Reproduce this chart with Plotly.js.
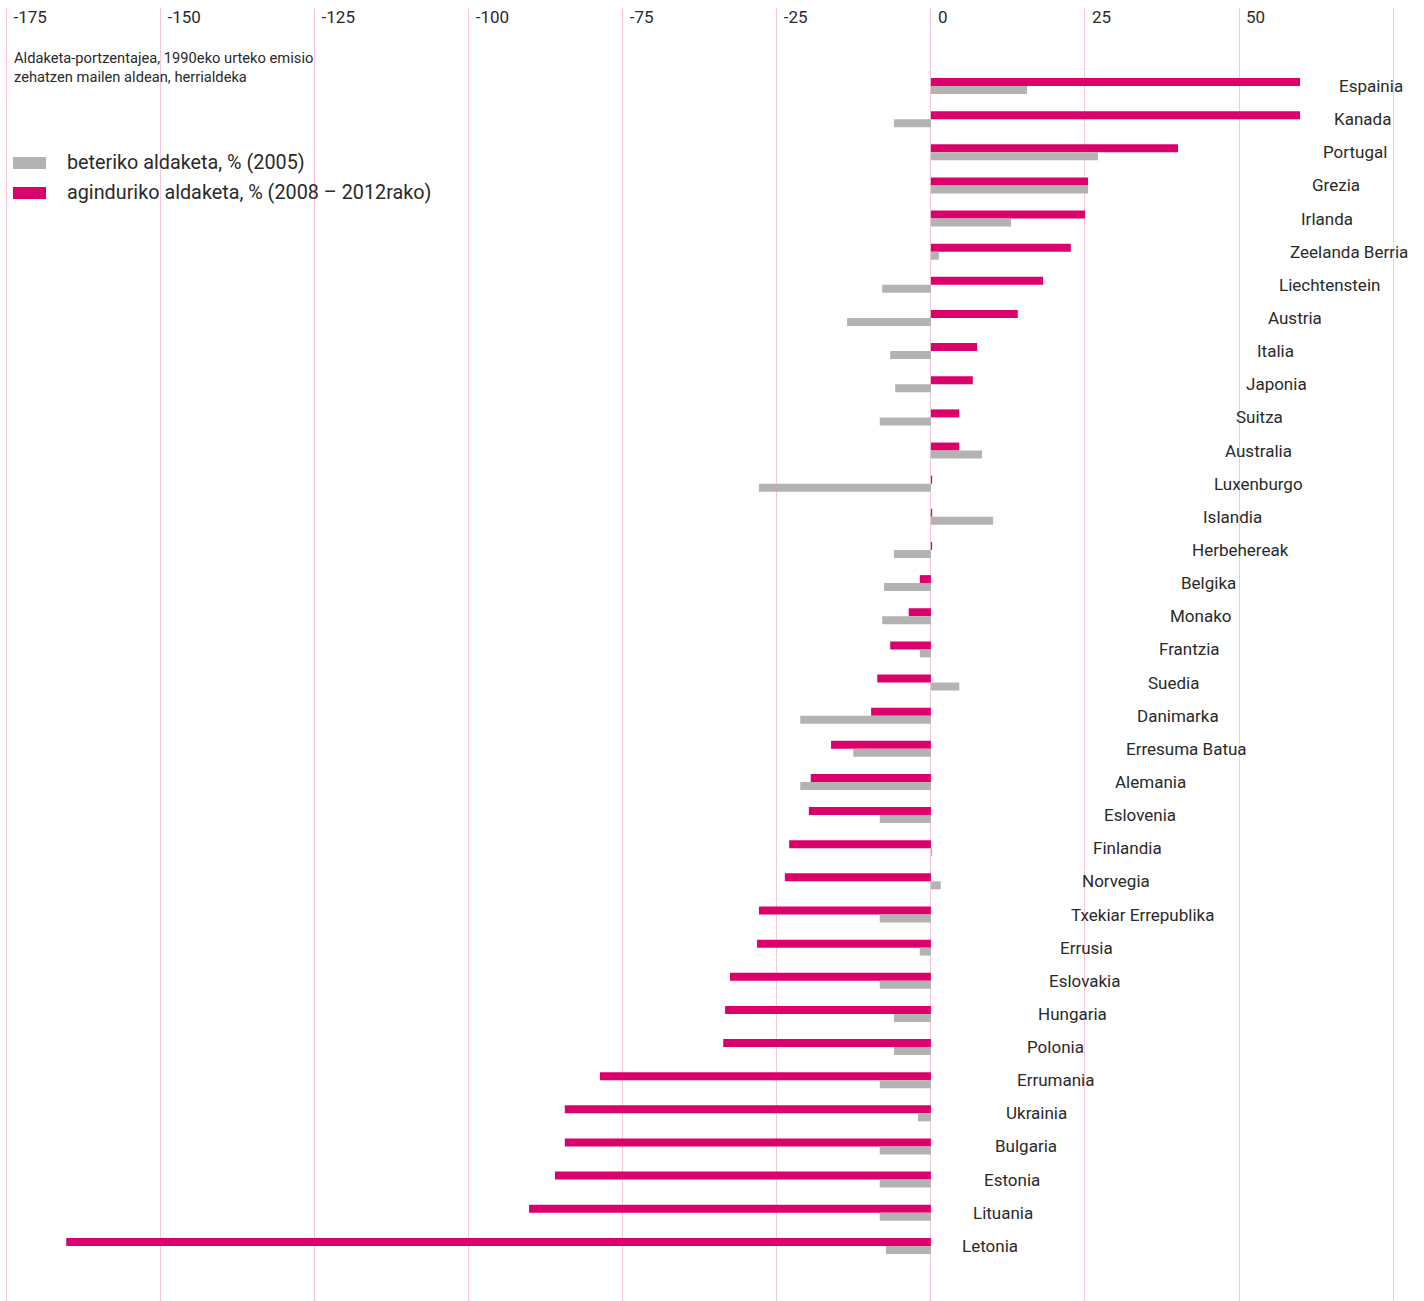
<!DOCTYPE html>
<html>
<head>
<meta charset="utf-8">
<script src="https://cdn.plot.ly/plotly-3.0.1.min.js"></script>
<style>
  html, body { margin: 0; padding: 0; background: #ffffff; }
  #chart { width: 1424px; height: 1301px; }
</style>
</head>
<body>
<div id="chart"></div>
<script>
// ---- data ----
const countries = ['Espainia','Kanada','Portugal','Grezia','Irlanda','Zeelanda Berria','Liechtenstein','Austria','Italia','Japonia','Suitza','Australia','Luxenburgo','Islandia','Herbehereak','Belgika','Monako','Frantzia','Suedia','Danimarka','Erresuma Batua','Alemania','Eslovenia','Finlandia','Norvegia','Txekiar Errepublika','Errusia','Eslovakia','Hungaria','Polonia','Errumania','Ukrainia','Bulgaria','Estonia','Lituania','Letonia'];

// aginduriko aldaketa, % (2008 – 2012rako)
const agindurikoValues = [59.9, 59.9, 40.1, 25.5, 25.0, 22.7, 18.2, 14.1, 7.5, 6.8, 4.6, 4.6, 0.2, 0.2, 0.2, -1.8, -3.6, -6.6, -8.7, -9.7, -16.2, -19.5, -19.8, -23.0, -23.7, -27.9, -28.2, -32.6, -33.4, -33.7, -53.7, -59.4, -59.4, -61.0, -65.2, -140.3];

// beteriko aldaketa, % (2005)
const beterikoValues = [15.6, -6.0, 27.1, 25.5, 13.0, 1.3, -7.9, -13.6, -6.6, -5.8, -8.3, 8.3, -27.9, 10.1, -6.0, -7.6, -7.9, -1.8, 4.6, -21.2, -12.6, -21.2, -8.3, 0.2, 1.6, -8.3, -1.8, -8.3, -6.0, -6.0, -8.3, -2.1, -8.3, -8.3, -8.3, -7.3];

const tickValues = [-150, -125, -100, -75, -50, -25, 0, 25, 50, 75];
const tickLabels = ['-175', '-150', '-125', '-100', '-75', '-25', '0', '25', '50', ''];

const seriesNames = ['beteriko aldaketa, % (2005)', 'aginduriko aldaketa, % (2008 – 2012rako)'];
const subtitleText = 'Aldaketa-portzentajea, 1990eko urteko emisio<br>zehatzen mailen aldean, herrialdeka';

// ---- styling / geometry ----
const PINK = '#dc006c';
const GRAY = '#b3b3b3';
const GRID = '#f6c8d9';
const TEXT = '#2a2a2a';
const FONT = 'Roboto, "Open Sans", sans-serif';

const W = 1424, H = 1301;
const M = {l: 0, r: 25, t: 8, b: 0};
const plotW = W - M.l - M.r;
const plotH = H - M.t - M.b;
const zeroPx = 930.9, pxPerUnit = 6.163;
const xRange = [(M.l - zeroPx) / pxPerUnit, (W - M.r - zeroPx) / pxPerUnit];

const rowPitch = 33.14, firstRowPx = 86;
const yTop = -(firstRowPx - M.t) / rowPitch;
const yBottom = (H - M.b - firstRowPx) / rowPitch;
const barW = 8 / rowPitch;

const px2x = px => (px - M.l) / plotW;
const px2y = py => 1 - (py - M.t) / plotH;

const traces = [
  {
    type: 'bar', orientation: 'h', name: seriesNames[1],
    x: agindurikoValues, y: countries,
    width: barW, offset: -barW,
    marker: {color: PINK, line: {width: 0}},
    hoverinfo: 'x+y', showlegend: false
  },
  {
    type: 'bar', orientation: 'h', name: seriesNames[0],
    x: beterikoValues, y: countries,
    width: barW, offset: 0,
    marker: {color: GRAY, line: {width: 0}},
    hoverinfo: 'x+y', showlegend: false
  }
];

const annotations = countries.map((c, i) => ({
  xref: 'paper', yref: 'y',
  x: px2x(Math.min(1344 - 10.95 * i, 1337.5)), y: i,
  text: c, showarrow: false,
  xanchor: 'left', yanchor: 'middle', borderpad: 0,
  font: {family: FONT, size: 17, color: TEXT}
}));

annotations.push({
  xref: 'paper', yref: 'paper', x: px2x(13), y: px2y(48),
  text: subtitleText, showarrow: false, align: 'left',
  xanchor: 'left', yanchor: 'top', borderpad: 0,
  font: {family: FONT, size: 14.7, color: TEXT}
});
annotations.push({
  xref: 'paper', yref: 'paper', x: px2x(66), y: px2y(162.5),
  text: seriesNames[0], showarrow: false,
  xanchor: 'left', yanchor: 'middle', borderpad: 0,
  font: {family: FONT, size: 19.8, color: TEXT}
});
annotations.push({
  xref: 'paper', yref: 'paper', x: px2x(66), y: px2y(192.5),
  text: seriesNames[1], showarrow: false,
  xanchor: 'left', yanchor: 'middle', borderpad: 0,
  font: {family: FONT, size: 19.8, color: TEXT}
});

const shapes = [
  {type: 'rect', xref: 'paper', yref: 'paper', x0: px2x(13), x1: px2x(46), y0: px2y(157), y1: px2y(169), fillcolor: GRAY, line: {width: 0}},
  {type: 'rect', xref: 'paper', yref: 'paper', x0: px2x(13), x1: px2x(46), y0: px2y(187), y1: px2y(199), fillcolor: PINK, line: {width: 0}}
];

const layout = {
  width: W, height: H,
  margin: {l: M.l, r: M.r, t: M.t, b: M.b, pad: 0},
  paper_bgcolor: '#ffffff', plot_bgcolor: '#ffffff',
  barmode: 'overlay',
  font: {family: FONT, color: TEXT},
  xaxis: {
    side: 'top', range: xRange, fixedrange: true,
    tickmode: 'array', tickvals: tickValues, ticktext: tickLabels,
    ticklabelposition: 'inside right',
    ticklabelshift: 7, ticklabelstandoff: -3,
    ticks: '', showline: false, zeroline: false,
    showgrid: true, gridcolor: GRID, gridwidth: 1,
    layer: 'above traces',
    tickfont: {family: FONT, size: 17, color: TEXT}
  },
  yaxis: {
    type: 'category', categoryorder: 'array', categoryarray: countries,
    range: [yBottom, yTop], fixedrange: true,
    showticklabels: false, showgrid: false, zeroline: false, showline: false, ticks: ''
  },
  annotations: annotations,
  shapes: shapes,
  showlegend: false
};

Plotly.newPlot('chart', traces, layout, {displayModeBar: false, staticPlot: true});
</script>
</body>
</html>
